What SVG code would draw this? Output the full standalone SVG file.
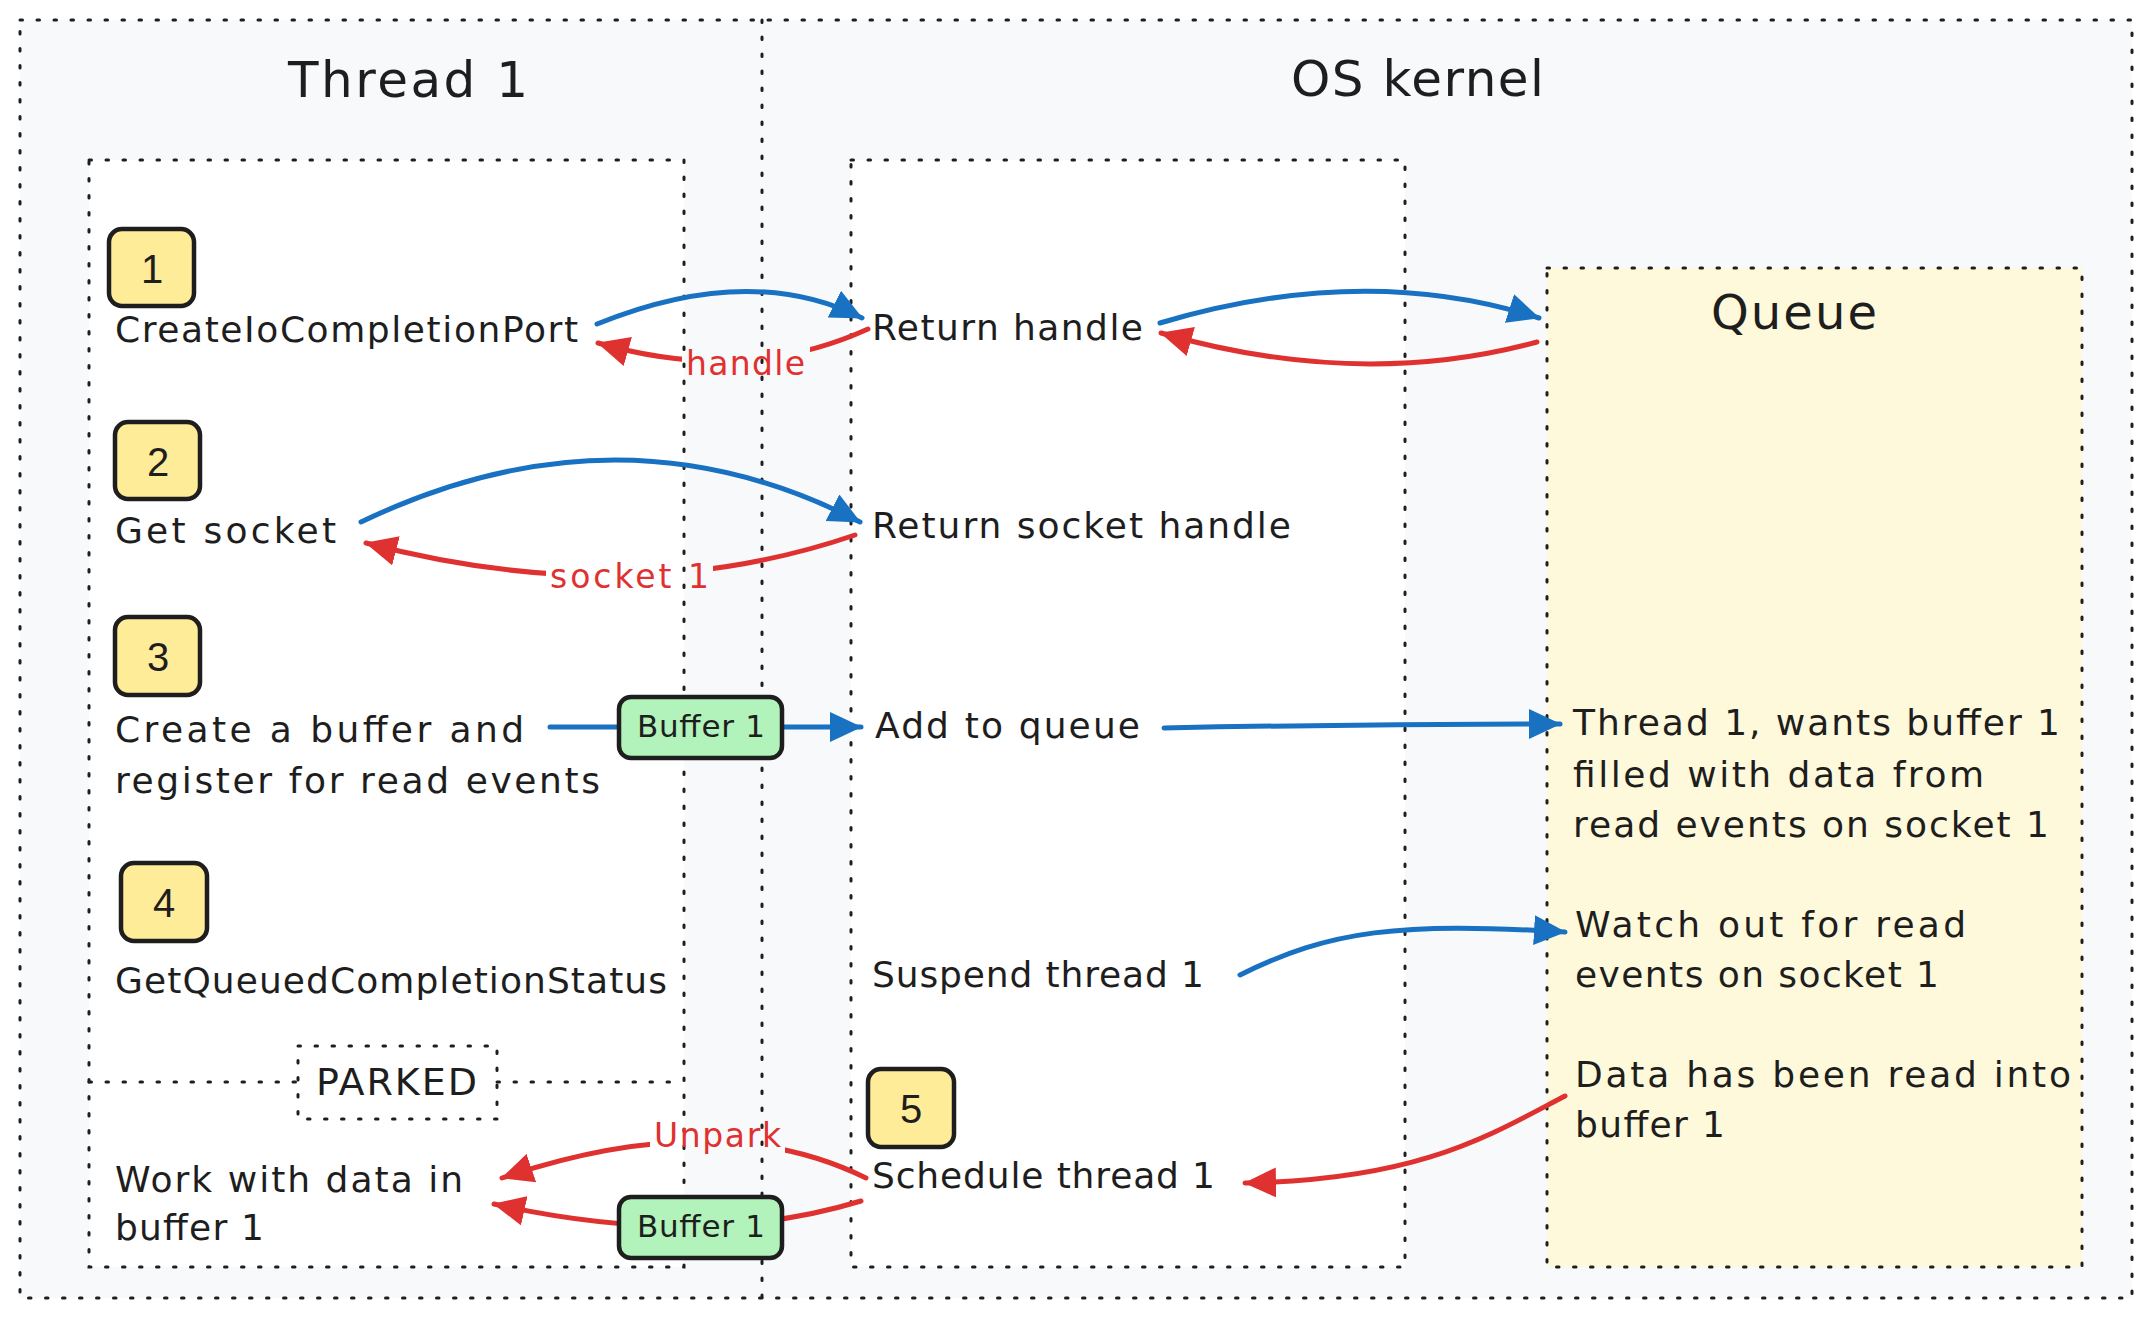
<svg xmlns="http://www.w3.org/2000/svg" width="2151" height="1318" viewBox="0 0 2151 1318">
<style>
.frame{stroke:#1e1e1e;stroke-width:3;stroke-dasharray:2.5 14.5;stroke-linecap:round}
.t{font-family:"DejaVu Sans",sans-serif;fill:#1e1e1e;font-size:36px}
.title{font-size:50px}
.queue{font-size:48px}
.parked{font-size:38px}
.lbl{font-family:"DejaVu Sans",sans-serif;fill:#e03131;font-size:33px}
.num{font-family:"Liberation Sans",Arial,sans-serif;font-size:40px;fill:#1e1e1e;text-anchor:middle}
.buf{font-size:31px}
.nbox{fill:#ffec99;stroke:#1e1e1e;stroke-width:4.5}
.bbox{fill:#b2f2bb;stroke:#1e1e1e;stroke-width:4.5}
.blue{fill:none;stroke:#1971c2;stroke-width:5;stroke-linecap:round;marker-end:url(#ab)}
.red{fill:none;stroke:#e03131;stroke-width:5;stroke-linecap:round;marker-end:url(#ar)}
</style>
<defs>
<marker id="ab" markerUnits="userSpaceOnUse" viewBox="0 0 32 30" markerWidth="32" markerHeight="30" refX="31" refY="15" orient="auto"><path d="M0,0 L32,15 L0,30 Z" fill="#1971c2"/></marker>
<marker id="ar" markerUnits="userSpaceOnUse" viewBox="0 0 32 30" markerWidth="32" markerHeight="30" refX="31" refY="15" orient="auto"><path d="M0,0 L32,15 L0,30 Z" fill="#e03131"/></marker>
<mask id="lblmask" maskUnits="userSpaceOnUse" x="0" y="0" width="2151" height="1318">
<rect x="0" y="0" width="2151" height="1318" fill="#fff"/>
<rect x="682" y="342" width="128" height="44" fill="#000"/>
<rect x="546" y="552" width="167" height="46" fill="#000"/>
<rect x="650" y="1112" width="135" height="46" fill="#000"/>
</mask>
</defs>
<rect width="2151" height="1318" fill="#ffffff"/>

<g id="lanes">
<rect id="outer" class="frame" x="20" y="20" width="2112" height="1278" fill="#f8f9fa"/>
<line class="frame" x1="762" y1="20" x2="762" y2="1298"/>
<text class="t title" x="288" y="97" textLength="240">Thread 1</text>
<text class="t title" x="1291" y="96" textLength="253">OS kernel</text>
</g>

<g id="thread-box">
<rect class="frame" x="89" y="160" width="595" height="1107" fill="#ffffff"/>
<line class="frame" x1="89" y1="1082" x2="298" y2="1082"/>
<line class="frame" x1="497" y1="1082" x2="684" y2="1082"/>
</g>
<g id="kernel-box">
<rect class="frame" x="851" y="160" width="554" height="1107" fill="#ffffff"/>
</g>
<g id="queue">
<rect class="frame" x="1547" y="268" width="535" height="999" fill="#fff9db"/>
<text class="t queue" x="1711" y="329" textLength="166">Queue</text>
</g>

<g id="connectors">
<path class="blue" d="M597,324 Q750,262 862,318"/>
<path class="red" mask="url(#lblmask)" d="M868,329 Q745,385 598,343"/>
<path class="blue" d="M1160,323 Q1365,262 1539,318"/>
<path class="red" d="M1537,342 Q1360,390 1161,333"/>
<path class="blue" d="M361,522 Q620,398 860,522"/>
<path class="red" mask="url(#lblmask)" d="M855,535 Q630,612 366,543"/>
<path class="blue" d="M550,727 L861,727"/>
<path class="blue" d="M1164,728 Q1360,724 1560,724"/>
<path class="blue" d="M1240,975 C1330,930 1400,922 1565,932"/>
<path class="red" d="M1565,1096 C1490,1135 1420,1180 1245,1183"/>
<path class="red" mask="url(#lblmask)" d="M866,1178 Q718,1105 502,1178"/>
<path class="red" d="M861,1201 Q700,1250 494,1204"/>
<text class="lbl" x="686" y="375" textLength="119">handle</text>
<text class="lbl" x="550" y="588" textLength="159">socket 1</text>
<text class="lbl" x="654" y="1147" textLength="127">Unpark</text>
</g>

<g id="step1">
<rect class="nbox" x="109" y="229" width="85" height="77" rx="13"/>
<text class="num" x="152" y="283">1</text>
<text class="t" x="115" y="342" textLength="463">CreateIoCompletionPort</text>
</g>
<g id="step2">
<rect class="nbox" x="115" y="422" width="85" height="77" rx="13"/>
<text class="num" x="158" y="476">2</text>
<text class="t" x="115" y="543" textLength="221">Get socket</text>
</g>
<g id="step3">
<rect class="nbox" x="115" y="617" width="85" height="78" rx="13"/>
<text class="num" x="158" y="671">3</text>
<text class="t" x="115" y="742" textLength="409">Create a buffer and</text>
<text class="t" x="115" y="793" textLength="485">register for read events</text>
</g>
<g id="step4">
<rect class="nbox" x="121" y="863" width="86" height="78" rx="13"/>
<text class="num" x="164" y="917">4</text>
<text class="t" x="115" y="993" textLength="552">GetQueuedCompletionStatus</text>
</g>
<g id="parked">
<rect class="frame" x="298" y="1046" width="199" height="73" fill="none"/>
<text class="t parked" x="316" y="1095" textLength="161">PARKED</text>
</g>
<g id="work">
<text class="t" x="115" y="1192" textLength="348">Work with data in</text>
<text class="t" x="115" y="1240" textLength="149">buffer 1</text>
</g>

<g id="return-handle"><text class="t" x="872" y="340" textLength="271">Return handle</text></g>
<g id="return-socket"><text class="t" x="872" y="538" textLength="419">Return socket handle</text></g>
<g id="add-queue"><text class="t" x="875" y="738" textLength="265">Add to queue</text></g>
<g id="suspend"><text class="t" x="872" y="987" textLength="332">Suspend thread 1</text></g>
<g id="step5">
<rect class="nbox" x="868" y="1069" width="86" height="78" rx="13"/>
<text class="num" x="911" y="1123">5</text>
<text class="t" x="872" y="1188" textLength="343">Schedule thread 1</text>
</g>

<g id="q-wants">
<text class="t" x="1573" y="735" textLength="487">Thread 1, wants buffer 1</text>
<text class="t" x="1573" y="787" textLength="411">filled with data from</text>
<text class="t" x="1573" y="837" textLength="476">read events on socket 1</text>
</g>
<g id="q-watch">
<text class="t" x="1575" y="937" textLength="391">Watch out for read</text>
<text class="t" x="1575" y="987" textLength="364">events on socket 1</text>
</g>
<g id="q-data">
<text class="t" x="1575" y="1087" textLength="496">Data has been read into</text>
<text class="t" x="1575" y="1137" textLength="150">buffer 1</text>
</g>

<g id="buffer-top">
<rect class="bbox" x="619" y="697" width="163" height="61" rx="12"/>
<text class="t buf" x="637" y="737" textLength="128">Buffer 1</text>
</g>
<g id="buffer-bottom">
<rect class="bbox" x="619" y="1197" width="163" height="61" rx="12"/>
<text class="t buf" x="637" y="1237" textLength="128">Buffer 1</text>
</g>
</svg>
